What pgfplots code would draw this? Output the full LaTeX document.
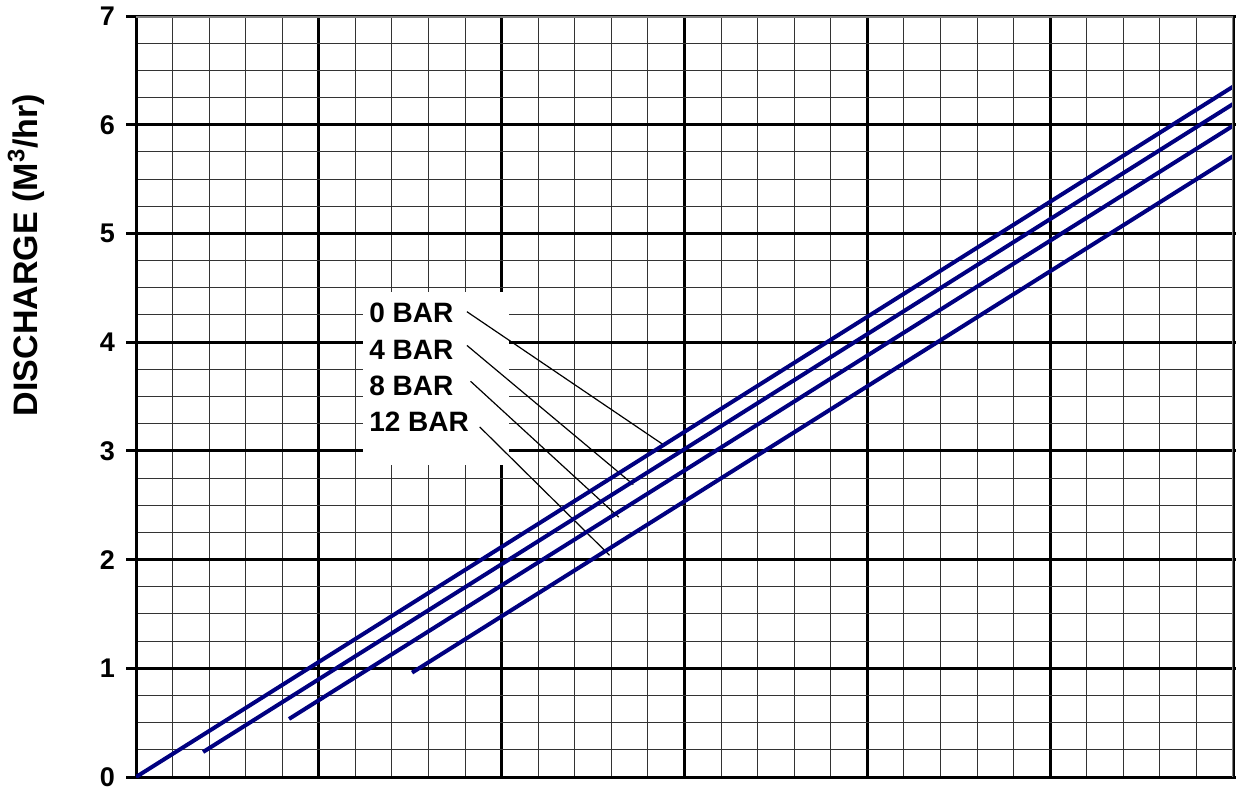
\documentclass[border=0pt]{standalone}
\usepackage{fontspec}
\setmainfont{Liberation Sans}
\usepackage{pgfplots}
\pgfplotsset{compat=1.18}
\definecolor{navyline}{RGB}{0,0,128}
\begin{document}
\begin{tikzpicture}
\begin{axis}[
  scale only axis, width=548.5pt, height=380.5pt,
  xmin=0, xmax=6, ymin=0, ymax=7,
  xtick={0,...,6}, xticklabels={},
  ytick={0,...,7},
  yticklabels={0,1,2,3,4,5,6,7},
  minor x tick num=4, minor y tick num=3,
  grid=both,
  major grid style={black, line width=1.5pt},
  minor grid style={black!80, line width=0.5pt},
  tick align=outside, major tick length=5pt, minor tick length=0pt,
  xtick style={draw=none},
  ytick style={black, line width=1.5pt},
  axis line style={black, line width=1.5pt},
  every y tick label/.append style={font=\bfseries\fontsize{13.5}{15}\selectfont},
  yticklabel shift=2pt,
  ylabel={DISCHARGE (M\textsuperscript{3}/hr)},
  every axis y label/.style={at={(rel axis cs:-0.1003,0.686)}, rotate=90, anchor=center,
    font=\bfseries\fontsize{17}{20}\selectfont},
]
% label box
\fill[white] (axis cs:1.24,2.87) rectangle (axis cs:2.04,4.46);
\node[anchor=west, inner sep=0pt, font=\bfseries\fontsize{14}{16}\selectfont] at (axis cs:1.274,4.27) {0 BAR};
\node[anchor=west, inner sep=0pt, font=\bfseries\fontsize{14}{16}\selectfont] at (axis cs:1.274,3.93) {4 BAR};
\node[anchor=west, inner sep=0pt, font=\bfseries\fontsize{14}{16}\selectfont] at (axis cs:1.274,3.60) {8 BAR};
\node[anchor=west, inner sep=0pt, font=\bfseries\fontsize{14}{16}\selectfont] at (axis cs:1.274,3.27) {12 BAR};
% leader lines
\draw[black, line width=0.6pt] (axis cs:1.81,4.28) -- (axis cs:2.89,3.05);
\draw[black, line width=0.6pt] (axis cs:1.81,3.97) -- (axis cs:2.72,2.69);
\draw[black, line width=0.6pt] (axis cs:1.83,3.64) -- (axis cs:2.64,2.39);
\draw[black, line width=0.6pt] (axis cs:1.88,3.22) -- (axis cs:2.59,2.04);
% discharge lines
\addplot[navyline, line width=2pt] coordinates {(0,0) (6,6.35)};
\addplot[navyline, line width=2pt] coordinates {(0.367,0.23) (6,6.19)};
\addplot[navyline, line width=2pt] coordinates {(0.837,0.534) (6,5.99)};
\addplot[navyline, line width=2pt] coordinates {(1.51,0.96) (6,5.71)};
% grey top and right border
\draw[black!50, line width=1.5pt] (rel axis cs:0,1) -- (rel axis cs:1,1) -- (rel axis cs:1,0);
\end{axis}
\pgfresetboundingbox
\useasboundingbox (-68pt,-6pt) rectangle (550pt,388.5pt);
\end{tikzpicture}
\end{document}
